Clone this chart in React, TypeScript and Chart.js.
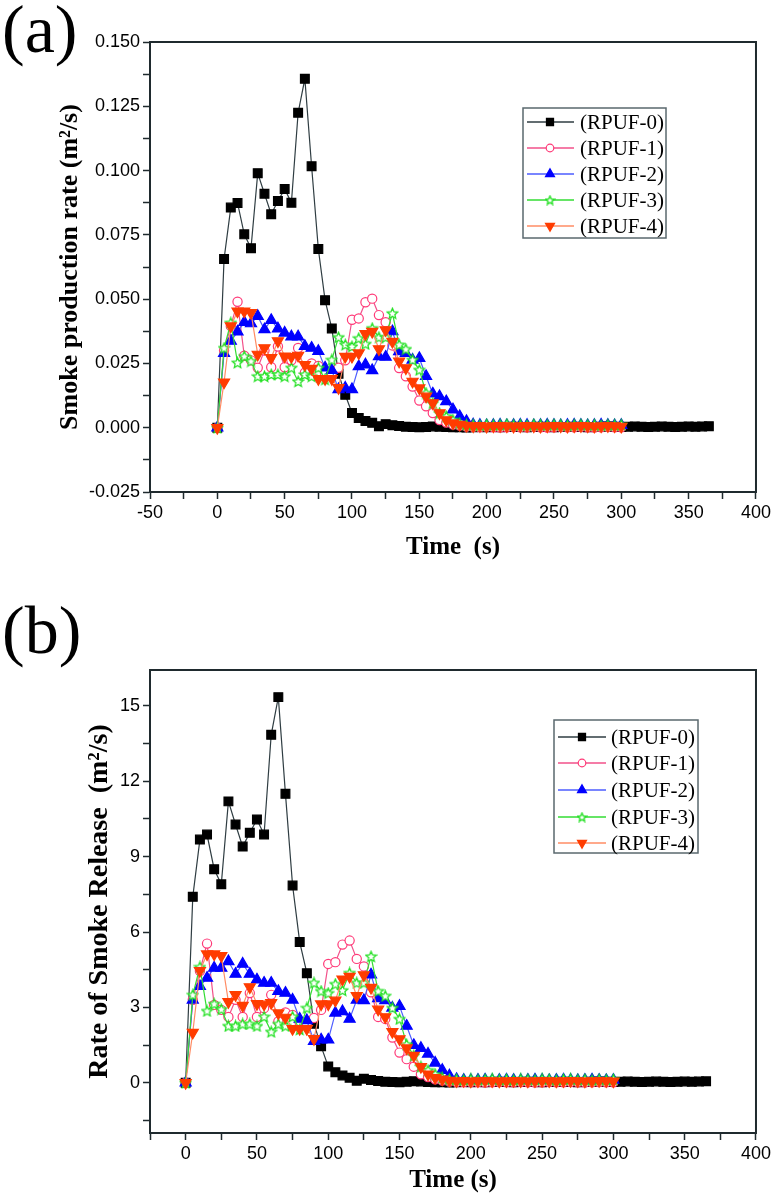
import React, { useEffect, useRef } from 'react';
import { Chart, registerables } from 'chart.js';
import * as helpers from 'chart.js/helpers';

Chart.register(...registerables);

// ---------- data ----------
const TIME_0 = [0, 5, 10, 15, 20, 25, 30, 35, 40, 45, 50, 55, 60, 65, 70, 75, 80, 85, 90, 95, 100, 105, 110, 115, 120, 125, 130, 135, 140, 145, 150, 155, 160, 165, 170, 175, 180, 185, 190, 195, 200, 205, 210, 215, 220, 225, 230, 235, 240, 245, 250, 255, 260, 265, 270, 275, 280, 285, 290, 295, 300, 305, 310, 315, 320, 325, 330, 335, 340, 345, 350, 355, 360, 365];
const TIME_1 = [0, 5, 10, 15, 20, 25, 30, 35, 40, 45, 50, 55, 60, 65, 70, 75, 80, 85, 90, 95, 100, 105, 110, 115, 120, 125, 130, 135, 140, 145, 150, 155, 160, 165, 170, 175, 180, 185, 190, 195, 200, 205, 210, 215, 220, 225, 230, 235, 240, 245, 250, 255, 260, 265, 270, 275, 280, 285, 290, 295, 300];

const SERIES_LABELS = ['(RPUF-0)', '(RPUF-1)', '(RPUF-2)', '(RPUF-3)', '(RPUF-4)'];

// (a) smoke production rate, m2/s
const SPR_0 = [0, 0.0656, 0.0856, 0.0874, 0.0752, 0.0698, 0.0990, 0.0910, 0.0830, 0.0882, 0.0928, 0.0875, 0.1225, 0.1357, 0.1017, 0.0695, 0.0496, 0.0386, 0.0210, 0.0128, 0.0057, 0.0038, 0.0026, 0.0019, 0.0006, 0.0014, 0.0010, 0.0007, 0.0004, 0.0003, 0.0002, 0.0003, 0.0005, 0.0004, 0.0003, 0.0002, 0.0002, 0.0001, 0.0002, 0.0003, 0.0002,
  0.0003, 0.0002, 0.0003, 0.0004, 0.0003, 0.0002, 0.0003, 0.0004, 0.0003, 0.0002, 0.0003, 0.0003, 0.0004, 0.0003, 0.0002, 0.0003, 0.0004, 0.0005, 0.0004, 0.0003, 0.0004, 0.0005, 0.0004, 0.0003, 0.0004, 0.0005, 0.0004, 0.0003, 0.0004, 0.0005, 0.0004, 0.0005, 0.0006];
const SPR_1 = [0, 0.0300, 0.0395, 0.0490, 0.0280, 0.0262, 0.0233, 0.0300, 0.0235, 0.0316, 0.0235, 0.0262, 0.0310, 0.0214, 0.0250, 0.0240, 0.0210, 0.0200, 0.0233, 0.0262, 0.0420, 0.0425, 0.0488, 0.0502, 0.0438, 0.0410, 0.0320, 0.0232, 0.0200, 0.0160, 0.0106, 0.0083, 0.0057, 0.0030, 0.0020, 0.0012, 0.0008,
  0.0004, 0.0003, 0.0002, 0.0003, 0.0002, 0.0001, 0.0002, 0.0003, 0.0002, 0.0002, 0.0003, 0.0002, 0.0001, 0.0002, 0.0003, 0.0002, 0.0002, 0.0003, 0.0002, 0.0001, 0.0002, 0.0003, 0.0002, 0.0002];
const SPR_2 = [0, 0.0290, 0.0337, 0.0373, 0.0410, 0.0405, 0.0434, 0.0382, 0.0418, 0.0385, 0.0369, 0.0354, 0.0354, 0.0317, 0.0310, 0.0298, 0.0233, 0.0224, 0.0149, 0.0155, 0.0149, 0.0238, 0.0245, 0.0223, 0.0277, 0.0275, 0.0374, 0.0297, 0.0290, 0.0264, 0.0270, 0.0200, 0.0132, 0.0122, 0.0102, 0.0070, 0.0044, 0.0025, 0.0012,
  0.0010, 0.0009, 0.0010, 0.0011, 0.0009, 0.0010, 0.0011, 0.0010, 0.0009, 0.0010, 0.0011, 0.0010, 0.0009, 0.0010, 0.0011, 0.0010, 0.0009, 0.0010, 0.0011, 0.0010, 0.0009, 0.0010];
const SPR_3 = [0, 0.0310, 0.0408, 0.0253, 0.0278, 0.0259, 0.0200, 0.0200, 0.0207, 0.0207, 0.0200, 0.0233, 0.0180, 0.0207, 0.0200, 0.0233, 0.0188, 0.0264, 0.0352, 0.0323, 0.0316, 0.0348, 0.0326, 0.0387, 0.0352, 0.0352, 0.0445, 0.0323, 0.0306, 0.0264, 0.0225, 0.0135, 0.0096, 0.0057, 0.0044, 0.0030, 0.0018, 0.0012,
  0.0012, 0.0010, 0.0013, 0.0011, 0.0012, 0.0014, 0.0011, 0.0012, 0.0010, 0.0013, 0.0012, 0.0011, 0.0013, 0.0012, 0.0010, 0.0012, 0.0013, 0.0011, 0.0012, 0.0010, 0.0012, 0.0011, 0.0012];
const SPR_4 = [0, 0.0177, 0.0395, 0.0453, 0.0453, 0.0447, 0.0285, 0.0310, 0.0272, 0.0337, 0.0278, 0.0276, 0.0281, 0.0245, 0.0230, 0.0190, 0.0190, 0.0190, 0.0155, 0.0277, 0.0277, 0.0290, 0.0365, 0.0374, 0.0306, 0.0380, 0.0335, 0.0258, 0.0232, 0.0180, 0.0154, 0.0122, 0.0096, 0.0057, 0.0030, 0.0018, 0.0012,
  0.0008, 0.0006, 0.0007, 0.0005, 0.0006, 0.0007, 0.0006, 0.0005, 0.0006, 0.0007, 0.0006, 0.0005, 0.0006, 0.0007, 0.0006, 0.0005, 0.0006, 0.0007, 0.0006, 0.0005, 0.0006, 0.0007, 0.0006, 0.0005];

// (b) rate of smoke release
const RSR_0 = [0, 7.40, 9.68, 9.88, 8.50, 7.90, 11.20, 10.28, 9.40, 9.95, 10.48, 9.88, 13.85, 15.35, 11.50, 7.85, 5.60, 4.36, 2.35, 1.45, 0.65, 0.42, 0.29, 0.20, 0.08, 0.16, 0.11, 0.07, 0.04, 0.03, 0.02, 0.04, 0.06, 0.05, 0.03, 0.02, 0.02, 0.01, 0.02, 0.03, 0.02,
  0.03, 0.02, 0.03, 0.04, 0.03, 0.02, 0.03, 0.04, 0.03, 0.02, 0.03, 0.03, 0.04, 0.03, 0.02, 0.03, 0.04, 0.05, 0.04, 0.03, 0.04, 0.05, 0.04, 0.03, 0.04, 0.05, 0.04, 0.03, 0.04, 0.05, 0.04, 0.05, 0.06];
const RSR_1 = [0, 3.30, 4.45, 5.54, 3.10, 2.90, 2.62, 3.30, 2.62, 3.57, 2.62, 2.97, 3.50, 2.44, 2.80, 2.70, 2.38, 2.26, 2.58, 2.90, 4.73, 4.80, 5.50, 5.66, 4.93, 4.63, 3.60, 2.62, 2.54, 1.80, 1.20, 0.94, 0.64, 0.34, 0.23, 0.14, 0.09,
  0.05, 0.03, 0.02, 0.03, 0.02, 0.01, 0.02, 0.03, 0.02, 0.02, 0.03, 0.02, 0.01, 0.02, 0.03, 0.02, 0.02, 0.03, 0.02, 0.01, 0.02, 0.03, 0.02, 0.02];
const RSR_2 = [0, 3.30, 3.84, 4.17, 4.57, 4.57, 4.83, 4.33, 4.73, 4.33, 4.10, 3.97, 3.97, 3.64, 3.57, 3.30, 2.54, 2.48, 1.65, 1.71, 1.71, 2.78, 2.84, 2.54, 3.30, 3.28, 4.30, 3.36, 3.28, 2.98, 3.05, 2.26, 1.49, 1.38, 1.15, 0.79, 0.50, 0.28, 0.14,
  0.11, 0.10, 0.11, 0.12, 0.10, 0.11, 0.12, 0.11, 0.10, 0.11, 0.12, 0.11, 0.10, 0.11, 0.12, 0.11, 0.10, 0.11, 0.12, 0.11, 0.10, 0.11];
const RSR_3 = [0, 3.50, 4.61, 2.86, 3.14, 2.93, 2.26, 2.26, 2.34, 2.34, 2.26, 2.63, 2.03, 2.34, 2.26, 2.63, 2.12, 2.98, 3.98, 3.65, 3.57, 3.93, 3.68, 4.37, 3.98, 3.98, 5.03, 3.65, 3.46, 2.98, 2.54, 1.53, 1.08, 0.64, 0.50, 0.34, 0.20, 0.14,
  0.14, 0.11, 0.15, 0.12, 0.14, 0.16, 0.12, 0.14, 0.11, 0.15, 0.14, 0.12, 0.15, 0.14, 0.11, 0.14, 0.15, 0.12, 0.14, 0.11, 0.14, 0.12, 0.14];
const RSR_4 = [0, 2.00, 4.46, 5.12, 5.12, 5.05, 3.22, 3.50, 3.07, 3.81, 3.14, 3.12, 3.18, 2.77, 2.60, 2.15, 2.15, 2.15, 1.75, 3.13, 3.13, 3.28, 4.12, 4.23, 3.46, 4.29, 3.79, 2.92, 2.62, 2.03, 1.74, 1.38, 1.08, 0.64, 0.34, 0.20, 0.14,
  0.09, 0.07, 0.08, 0.06, 0.07, 0.08, 0.07, 0.06, 0.07, 0.08, 0.07, 0.06, 0.07, 0.08, 0.07, 0.06, 0.07, 0.08, 0.07, 0.06, 0.07, 0.08, 0.07, 0.06];

const TIMES = [TIME_0, TIME_1, TIME_1, TIME_1, TIME_1];
const SPR = [SPR_0, SPR_1, SPR_2, SPR_3, SPR_4];
const RSR = [RSR_0, RSR_1, RSR_2, RSR_3, RSR_4];

// ---------- styles ----------
const SERIF = '"Liberation Serif", "Times New Roman", serif';
const SANS = '"Liberation Sans", Arial, sans-serif';
const AXIS = '#1f2a2e';

function makeStar(stroke: string, size: number): HTMLCanvasElement {
  const c = document.createElement('canvas');
  c.width = size;
  c.height = size;
  const ctx = c.getContext('2d')!;
  const cx = size / 2, cy = size / 2 + 0.5, R = size / 2 - 1, r = R * 0.46;
  ctx.beginPath();
  for (let i = 0; i < 10; i++) {
    const ang = -Math.PI / 2 + (i * Math.PI) / 5;
    const rad = i % 2 === 0 ? R : r;
    const x = cx + rad * Math.cos(ang);
    const y = cy + rad * Math.sin(ang);
    if (i === 0) ctx.moveTo(x, y); else ctx.lineTo(x, y);
  }
  ctx.closePath();
  ctx.fillStyle = '#ffffff';
  ctx.fill();
  ctx.strokeStyle = stroke;
  ctx.lineWidth = 1.3;
  ctx.stroke();
  return c;
}

type SeriesStyle = { line: string; fill: string; border: string; pointStyle: any; radius: number; rotation: number; legendRadius: number };

function seriesStyles(starSize: number, legendStar: number): { plot: SeriesStyle[]; legendStars: HTMLCanvasElement } {
  const star = makeStar('#22e022', starSize);
  return {
    plot: [
      { line: '#2f3d42', fill: '#000000', border: '#000000', pointStyle: 'rect', radius: 6.2, rotation: 0, legendRadius: 5 },
      { line: '#f2508a', fill: '#ffffff', border: '#ff3a78', pointStyle: 'circle', radius: 4.6, rotation: 0, legendRadius: 3.8 },
      { line: '#4d5dff', fill: '#0000ff', border: '#0000ff', pointStyle: 'triangle', radius: 6.4, rotation: 0, legendRadius: 5.2 },
      { line: '#33dd33', fill: '#ffffff', border: '#22e022', pointStyle: star, radius: 5, rotation: 0, legendRadius: 4 },
      { line: '#ff8c64', fill: '#ff3c00', border: '#ff3c00', pointStyle: 'triangle', radius: 6.4, rotation: 180, legendRadius: 5.2 },
    ],
    legendStars: makeStar('#22e022', legendStar),
  };
}

const framePlugin = {
  id: 'frameBox',
  afterDatasetsDraw(chart: any) {
    const { ctx, chartArea } = chart;
    const { left, top, right, bottom } = chartArea;
    ctx.save();
    ctx.strokeStyle = AXIS;
    ctx.lineWidth = 2;
    ctx.strokeRect(left, top, right - left, bottom - top);
    ctx.restore();
  },
};

const boxLegendPlugin = {
  id: 'boxLegend',
  afterDraw(chart: any, _args: any, opts: any) {
    if (!opts || !opts.rows) return;
    const ctx: CanvasRenderingContext2D = chart.ctx;
    ctx.save();
    ctx.fillStyle = '#ffffff';
    ctx.fillRect(opts.x, opts.y, opts.w, opts.h);
    ctx.strokeStyle = '#5a686e';
    ctx.lineWidth = 1.5;
    ctx.strokeRect(opts.x, opts.y, opts.w, opts.h);
    chart.data.datasets.forEach((ds: any, i: number) => {
      const yy = opts.rows[i];
      ctx.strokeStyle = ds.borderColor;
      ctx.lineWidth = 1.3;
      ctx.beginPath();
      ctx.moveTo(opts.lineX0, yy);
      ctx.lineTo(opts.lineX1, yy);
      ctx.stroke();
      ctx.fillStyle = ds.pointBackgroundColor;
      ctx.strokeStyle = ds.pointBorderColor;
      ctx.lineWidth = 1.2;
      const ps = typeof ds.pointStyle === 'string' ? ds.pointStyle : opts.star;
      helpers.drawPoint(ctx, { pointStyle: ps, rotation: ds.pointRotation || 0, radius: ds.legendRadius, borderWidth: 1.2 } as any, opts.markX, yy);
      ctx.fillStyle = '#000000';
      ctx.font = `${opts.fontSize}px ${SERIF}`;
      ctx.textBaseline = 'middle';
      ctx.textAlign = 'left';
      ctx.fillText(ds.label, opts.textX, yy + 1);
    });
    ctx.restore();
  },
};

type PanelSpec = {
  values: number[][];
  canvasH: number;
  areaTop: number;
  areaBottom: number;
  xMin: number;
  yMin: number;
  yMax: number;
  yStep: number;
  yLabel: (v: number) => string;
  yTitle: string;
  yTitleSize: number;
  yTitleCenter: number;
  xTitle: string;
  xTitleSize: number;
  xTitleCenter: number;
  legend: any;
};

function buildConfig(p: PanelSpec) {
  const { plot, legendStars } = seriesStyles(13, 11);
  const datasets = p.values.map((vals, i) => {
    const s = plot[i];
    return {
      label: SERIES_LABELS[i],
      data: TIMES[i].map((t, j) => ({ x: t, y: vals[j] })),
      borderColor: s.line,
      borderWidth: 1.2,
      backgroundColor: s.fill,
      pointBackgroundColor: s.fill,
      pointBorderColor: s.border,
      pointBorderWidth: 1.2,
      pointStyle: s.pointStyle,
      pointRadius: s.radius,
      pointRotation: s.rotation,
      legendRadius: s.legendRadius,
      tension: 0,
      fill: false,
      order: 4 - i,
    };
  });
  const xTitleFont = { family: SERIF, size: p.xTitleSize, weight: 'bold' as const, lineHeight: 1.2 };
  const yTitleFont = { family: SERIF, size: p.yTitleSize, weight: 'bold' as const, lineHeight: 1.2 };
  const xAxisH = p.canvasH - p.areaBottom;
  return {
    type: 'line' as const,
    data: { datasets },
    options: {
      responsive: false,
      animation: false as const,
      devicePixelRatio: 1,
      layout: { padding: { left: 0, right: 17, top: p.areaTop, bottom: 0 } },
      plugins: {
        legend: { display: false },
        tooltip: { enabled: false },
        boxLegend: { ...p.legend, star: legendStars },
      },
      scales: {
        x: {
          type: 'linear' as const,
          min: p.xMin,
          max: 400,
          afterFit: (s: any) => { s.height = xAxisH; },
          ticks: {
            stepSize: 25,
            autoSkip: false,
            maxRotation: 0,
            padding: 3,
            color: '#000',
            font: { family: SANS, size: 18 },
            callback: (v: any) => (Math.round(Number(v)) % 50 === 0 ? String(Math.round(Number(v))) : ''),
          },
          grid: { drawOnChartArea: false, tickLength: 7, tickColor: AXIS, tickWidth: 1.5 },
          border: { color: AXIS, width: 2 },
          title: {
            display: true,
            text: p.xTitle,
            color: '#000',
            font: xTitleFont,
            padding: { top: 0, bottom: p.xTitleCenter - (p.xTitleSize * 1.2) / 2 },
          },
        },
        y: {
          type: 'linear' as const,
          min: p.yMin,
          max: p.yMax,
          afterFit: (s: any) => { s.width = 150; },
          ticks: {
            stepSize: p.yStep,
            includeBounds: false,
            autoSkip: false,
            padding: 3,
            color: '#000',
            font: { family: SANS, size: 18 },
            callback: (v: any) => p.yLabel(Number(v)),
          },
          grid: { drawOnChartArea: false, tickLength: 7, tickColor: AXIS, tickWidth: 1.5 },
          border: { color: AXIS, width: 2 },
          title: {
            display: true,
            text: p.yTitle,
            color: '#000',
            font: yTitleFont,
            padding: { top: p.yTitleCenter - (p.yTitleSize * 1.2) / 2, bottom: 0 },
          },
        },
      },
    },
    plugins: [framePlugin, boxLegendPlugin],
  };
}

const PANEL_A: PanelSpec = {
  values: SPR,
  canvasH: 580,
  areaTop: 42,
  areaBottom: 492,
  xMin: -50,
  yMin: -0.025,
  yMax: 0.15,
  yStep: 0.0125,
  yLabel: (v) => {
    const k = Math.round(v / 0.0125);
    return k % 2 === 0 ? (k * 0.0125).toFixed(3) : '';
  },
  yTitle: 'Smoke production rate (m²/s)',
  yTitleSize: 26,
  yTitleCenter: 70,
  xTitle: 'Time  (s)',
  xTitleSize: 25,
  xTitleCenter: 32,
  legend: { x: 523, y: 108, w: 143, h: 130, rows: [122, 148, 174, 200, 226], lineX0: 527, lineX1: 574, markX: 550, textX: 580, fontSize: 21 },
};

const PANEL_B: PanelSpec = {
  values: RSR,
  canvasH: 618,
  areaTop: 90,
  areaBottom: 553,
  xMin: -25,
  yMin: -2,
  yMax: 16.43,
  yStep: 1.5,
  yLabel: (v) => {
    const k = Math.round(v / 1.5);
    return k % 2 === 0 ? String(k * 1.5) : '';
  },
  yTitle: 'Rate of Smoke Release  (m²/s)',
  yTitleSize: 28,
  yTitleCenter: 100,
  xTitle: 'Time (s)',
  xTitleSize: 25,
  xTitleCenter: 17,
  legend: { x: 554, y: 140, w: 144, h: 133, rows: [157, 183, 210, 237, 263], lineX0: 558, lineX1: 606, markX: 582, textX: 611, fontSize: 21 },
};

export default function App() {
  const refA = useRef<HTMLCanvasElement | null>(null);
  const refB = useRef<HTMLCanvasElement | null>(null);

  useEffect(() => {
    const charts: Chart[] = [];
    if (refA.current) charts.push(new Chart(refA.current, buildConfig(PANEL_A) as any));
    if (refB.current) charts.push(new Chart(refB.current, buildConfig(PANEL_B) as any));
    return () => charts.forEach((c) => c.destroy());
  }, []);

  const panelLabel: React.CSSProperties = {
    position: 'absolute',
    left: 2,
    fontFamily: SERIF,
    fontSize: 68,
    lineHeight: '68px',
    color: '#000',
    margin: 0,
  };

  return (
    <div style={{ position: 'absolute', left: 0, top: 0, width: 774, height: 1198, background: '#fff', overflow: 'hidden' }}>
      <canvas ref={refA} width={774} height={580} style={{ position: 'absolute', left: 0, top: 0, width: 774, height: 580 }} />
      <canvas ref={refB} width={774} height={618} style={{ position: 'absolute', left: 0, top: 580, width: 774, height: 618 }} />
      <div style={{ ...panelLabel, top: -5 }}>(a)</div>
      <div style={{ ...panelLabel, top: 596 }}>(b)</div>
    </div>
  );
}
